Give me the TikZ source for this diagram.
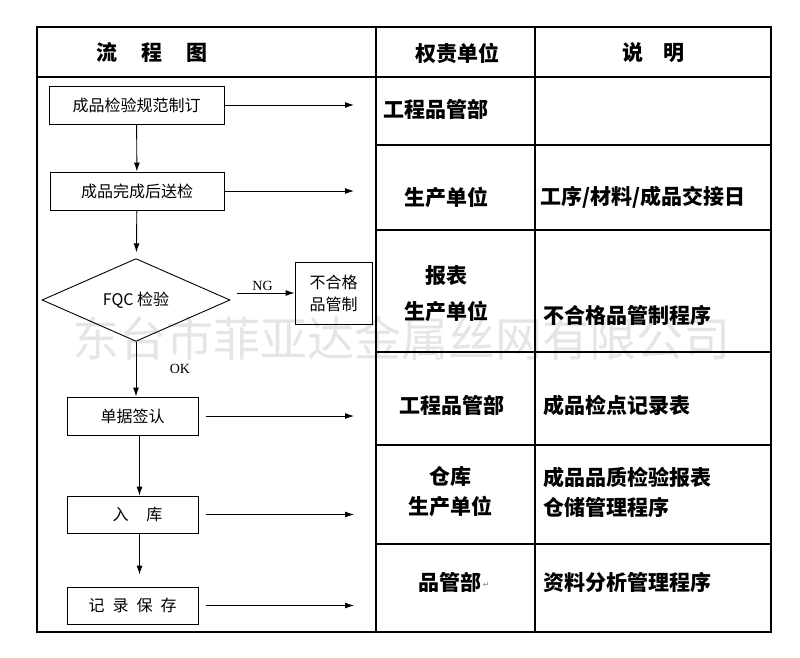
\documentclass[tikz,border=0pt]{standalone}
\usepackage{fontspec}
\setmainfont{Liberation Serif}
\newfontfamily\cjk{Noto Sans CJK SC}
\newfontfamily\symb{DejaVu Sans}
\usetikzlibrary{shapes.geometric,arrows.meta}
\tikzset{
	box/.style={draw,line width=0.9pt,inner sep=0pt,font=\cjk\fontsize{16}{22}\selectfont},
	flow/.style={line width=0.9pt,-{Latex[length=9pt,width=6pt]}},
	grid/.style={line width=1.2pt},
	cell/.style={font=\cjk\bfseries\fontsize{21}{36}\selectfont,inner sep=0pt,align=center},
	head/.style={font=\cjk\bfseries\fontsize{21}{26}\selectfont,inner sep=0pt}
}
\begin{document}
\begin{tikzpicture}[x=1pt,y=-1pt]
	\useasboundingbox (0,0) rectangle (800,658);
	% watermark
	\node[font=\cjk\fontsize{47}{50}\selectfont,text=gray!20,inner sep=0pt] (wm) at (401,338) {东台市菲亚达金属丝网有限公司};
	% table
	\draw[grid] (37,27) rectangle (771,632);
	\draw[grid] (376,27)--(376,632) (535,27)--(535,632) (37,77)--(771,77);
	\foreach \y in {145,230,352,445,544}
	\draw[grid] (376,\y)--(771,\y);
	\node[head] (h1) at (152,53) {流\hspace{24pt}程\hspace{24pt}图};
	\node[head] (h2) at (457,53) {权责单位};
	\node[head] (h3) at (653,53) {说\hspace{20pt}明};
	% flow chart
	\node[box,minimum width=175pt,minimum height=38pt] (s1) at (136.5,105) {成品检验规范制订};
	\node[box,minimum width=174pt,minimum height=38pt] (s2) at (137,191) {成品完成后送检};
	\node[box,diamond,minimum width=188pt,minimum height=76pt] (qc) at (136,300) {FQC {\cjk 检验}};
	\node[box,minimum width=77pt,minimum height=62pt,align=center] (ng) at (333.5,293) {不合格\\品管制};
	\node[box,minimum width=131pt,minimum height=38pt] (s3) at (132.5,416) {单据签认};
	\node[box,minimum width=131pt,minimum height=37pt] (s4) at (132.5,514.5) {\hspace{10pt}入\hspace{18pt}库};
	\node[box,minimum width=131pt,minimum height=37pt] (s5) at (132.5,605.5) {记\hspace{8pt}录\hspace{8pt}保\hspace{8pt}存};
	\coordinate (r) at (354,0);
	\draw[flow] (s1)--(s2);
	\draw[flow,shorten >=6pt] (s2)--(qc);
	\draw[flow,shorten <=7pt] (ng.west -| qc.east)--(ng.west) node[midway,above=-1pt,font=\fontsize{14}{16}\selectfont] (ngl) {NG};
	\draw[flow] (qc.south)--(qc.south |- s3.north) node[pos=0.5,right=30pt,font=\fontsize{14}{16}\selectfont] (okl) {OK};
	\draw[flow] ([xshift=7pt]s3.south)--([xshift=7pt]s4.north);
	\draw[flow,shorten >=12pt] ([xshift=7pt]s4.south)--([xshift=7pt]s5.north);
	\foreach \n in {s1,s2}
	\draw[flow] (\n.east)--(\n.east -| r);
	\foreach \n in {s3,s4,s5}
	\draw[flow,shorten <=8pt] (\n.east)--(\n.east -| r);
	% responsible units and notes
	\node[cell,anchor=west] (u1) at (383,109) {工程品管部};
	\node[cell] (u2) at (446,197) {生产单位};
	\node[cell,anchor=west] (n2) at (540,197) {工序/材料/成品交接日};
	\node[cell] (u3) at (446,294) {报表\\生产单位};
	\node[cell,anchor=west] (n3) at (543,315) {不合格品管制程序};
	\node[cell] (u4) at (452,405) {工程品管部};
	\node[cell,anchor=west] (n4) at (543,405) {成品检点记录表};
	\node[cell] (u5) at (450,492) {仓库\\[-6pt]生产单位};
	\node[cell,anchor=west,align=left] (n5) at (543,492) {成品品质检验报表\\[-6pt]仓储管理程序};
	\node[cell] (u6) at (450,582) {品管部};
	\node[font=\symb\fontsize{8}{8}\selectfont,text=gray,inner sep=0pt,anchor=west] (pm) at ([xshift=1pt,yshift=-3pt]u6.east) {↵};
	\node[cell,anchor=west] (n6) at (543,582) {资料分析管理程序};
\end{tikzpicture}
\end{document}
